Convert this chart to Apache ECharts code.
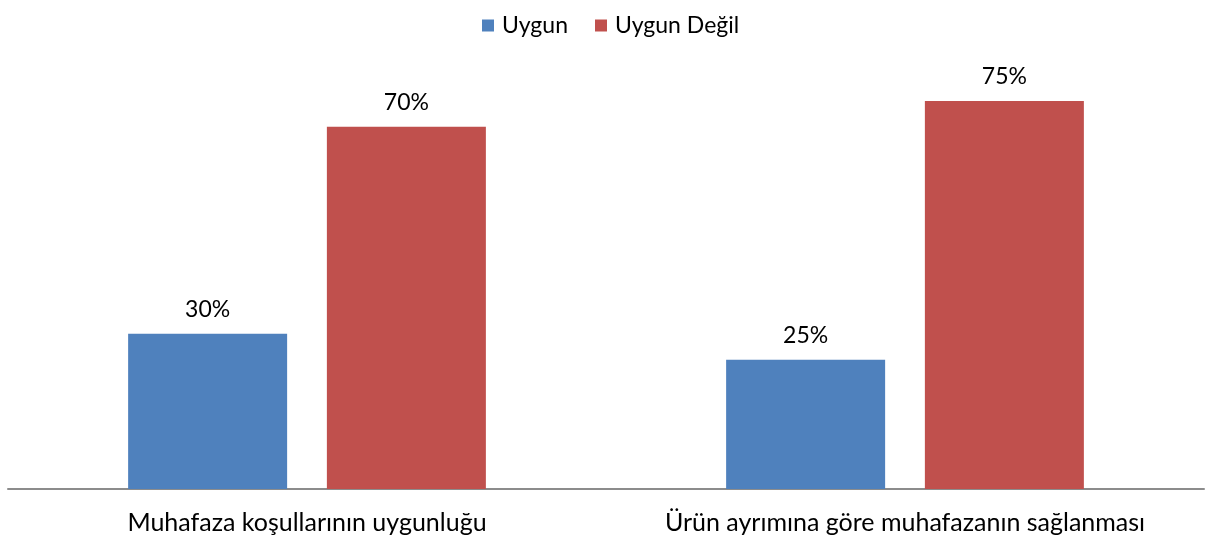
<!DOCTYPE html>
<html>
<head>
<meta charset="utf-8">
<script src="https://cdn.jsdelivr.net/npm/echarts@6/dist/echarts.min.js"></script>
<style>
  html, body { margin: 0; padding: 0; background: #fff; }
  #chart { width: 1205px; height: 543px; }
</style>
</head>
<body>
<div id="chart"></div>
<script>
const categories = ["Muhafaza koşullarının uygunluğu", "Ürün ayrımına göre muhafazanın sağlanması"];
const seriesNames = ["Uygun", "Uygun Değil"];
const uygun = [30, 25];
const uygunDegil = [70, 75];

const chart = echarts.init(document.getElementById("chart"));
const font = "Lato, 'Open Sans', sans-serif";

const labelOpt = {
  show: true,
  position: "top",
  distance: 13,
  formatter: "{c}%",
  color: "#000",
  fontSize: 23,
  fontFamily: font,
};

chart.setOption({
  animation: false,
  legend: {
    data: seriesNames,
    left: 477,
    top: 9,
    icon: "rect",
    itemWidth: 12,
    itemHeight: 12,
    itemGap: 27,
    textStyle: { color: "#000", fontSize: 23, fontFamily: font, padding: [0, 0, 0, 3] },
  },
  grid: { left: 8, right: 1, top: 75, bottom: 54, containLabel: false },
  xAxis: {
    type: "category",
    data: categories,
    axisLine: { lineStyle: { color: "#8c8c8c", width: 2 } },
    axisTick: { show: false },
    axisLabel: { interval: 0, color: "#000", fontSize: 25, fontFamily: font, margin: 21 },
  },
  yAxis: {
    type: "value",
    min: 0,
    max: 80,
    show: false,
  },
  series: [
    {
      name: seriesNames[0],
      type: "bar",
      data: uygun,
      barWidth: 159,
      barGap: "25%",
      itemStyle: { color: "#4F81BD" },
      label: labelOpt,
    },
    {
      name: seriesNames[1],
      type: "bar",
      data: uygunDegil,
      barWidth: 159,
      itemStyle: { color: "#C0504D" },
      label: labelOpt,
    },
  ],
});
</script>
</body>
</html>
